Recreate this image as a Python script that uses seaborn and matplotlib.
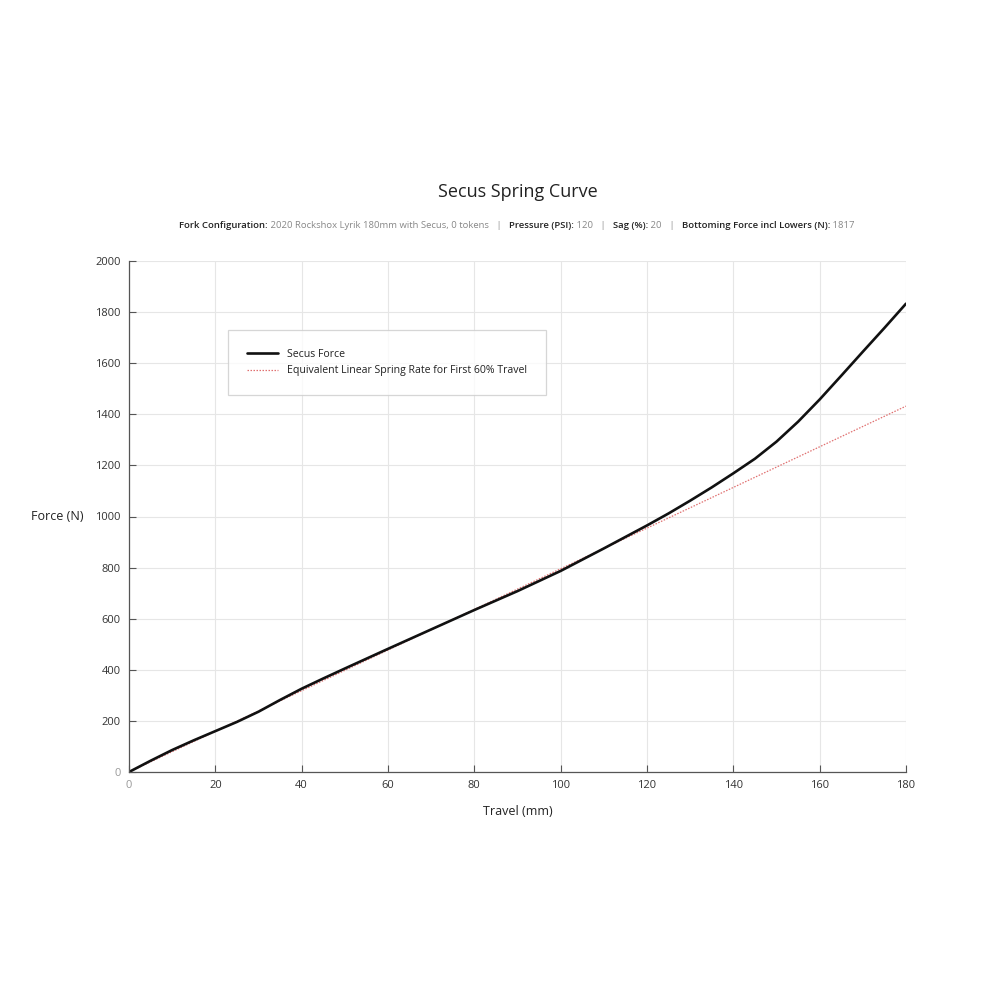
import pandas as pd
import seaborn as sns
from matplotlib import pyplot as plt

travel = [0, 5, 10, 15, 20, 25, 30, 35, 40, 45, 50, 60, 70, 80, 90, 100,
          110, 120, 125, 130, 135, 140, 145, 150, 155, 160, 165, 170, 175, 180]
force = [0, 44, 86, 124, 160, 196, 236, 282, 326, 366, 405, 482, 558, 634,
         708, 787, 875, 965, 1012, 1062, 1114, 1169, 1226, 1293, 1371, 1458,
         1551, 1645, 1738, 1833]

linear_travel = [0, 180]
linear_force = [0, 1432]

x_ticks = [0, 20, 40, 60, 80, 100, 120, 140, 160, 180]
y_ticks = [0, 200, 400, 600, 800, 1000, 1200, 1400, 1600, 1800, 2000]

subtitle_parts = [
    ("Fork Configuration:", True), (" 2020 Rockshox Lyrik 180mm with Secus, 0 tokens", False),
    ("   |   ", False),
    ("Pressure (PSI):", True), (" 120", False),
    ("   |   ", False),
    ("Sag (%):", True), (" 20", False),
    ("   |   ", False),
    ("Bottoming Force incl Lowers (N):", True), (" 1817", False),
]

sns.set_style("white")
plt.rcParams['font.family'] = ['Open Sans', 'DejaVu Sans']

df = pd.DataFrame({"travel": travel, "force": force})
df_lin = pd.DataFrame({"travel": linear_travel, "force": linear_force})

fig = plt.figure(figsize=(10, 10), dpi=100)
ax = fig.add_axes([0.129, 0.228, 0.777, 0.511])

sns.lineplot(data=df_lin, x="travel", y="force", ax=ax, color="#e07070",
             linestyle=(0, (1.2, 1.2)), linewidth=0.9,
             label="Equivalent Linear Spring Rate for First 60% Travel")
sns.lineplot(data=df, x="travel", y="force", ax=ax, color="#111111",
             linewidth=1.9, label="Secus Force", solid_joinstyle="round")

ax.set_xlim(0, 180)
ax.set_ylim(0, 2000)
ax.set_xticks(x_ticks)
ax.set_yticks(y_ticks)
ax.grid(True, color="#e6e6e6", linewidth=0.8)
ax.set_axisbelow(True)
for s in ["top", "right"]:
    ax.spines[s].set_visible(False)
for s in ["left", "bottom"]:
    ax.spines[s].set_color("#555555")
    ax.spines[s].set_linewidth(0.9)
ax.tick_params(bottom=True, left=True, direction="in", length=5, width=0.8,
               color="#555555", labelsize=8, labelcolor="#333333", pad=6)
ax.get_xticklabels()[0].set_color("#999999")
ax.get_yticklabels()[0].set_color("#999999")

ax.set_xlabel("Travel (mm)", fontsize=9, color="#222222", labelpad=10,
              fontweight="medium")
ax.set_ylabel("")
fig.text(0.057, 0.483, "Force (N)", fontsize=9, color="#222222",
         ha="center", va="center", fontweight="medium")

handles, labels = ax.get_legend_handles_labels()
leg = ax.legend(handles[::-1], labels[::-1], loc="upper left",
                bbox_to_anchor=(0.127, 0.865), fontsize=7.6, frameon=True,
                fancybox=False, edgecolor="#cccccc", borderpad=1.8,
                handlelength=3.0, labelspacing=0.5, borderaxespad=0)
leg.get_frame().set_linewidth(0.9)
for t in leg.get_texts():
    t.set_color("#222222")
    t.set_fontweight("medium")

fig.text(0.518, 0.808, "Secus Spring Curve", fontsize=13, color="#222222",
         ha="center", va="center", fontweight="medium")

# subtitle assembled from bold labels and grey values
renderer = fig.canvas.get_renderer()
pieces = []
for txt, bold in subtitle_parts:
    t = fig.text(0, 0.775, txt, fontsize=6.8, ha="left", va="center",
                 fontweight="semibold" if bold else "normal",
                 color="#222222" if bold else "#888888")
    pieces.append(t)
widths = [p.get_window_extent(renderer).width / fig.bbox.width for p in pieces]
x = 0.517 - sum(widths) / 2
for p, w in zip(pieces, widths):
    p.set_x(x)
    x += w

fig.savefig("out.png", dpi=100, facecolor="white")
